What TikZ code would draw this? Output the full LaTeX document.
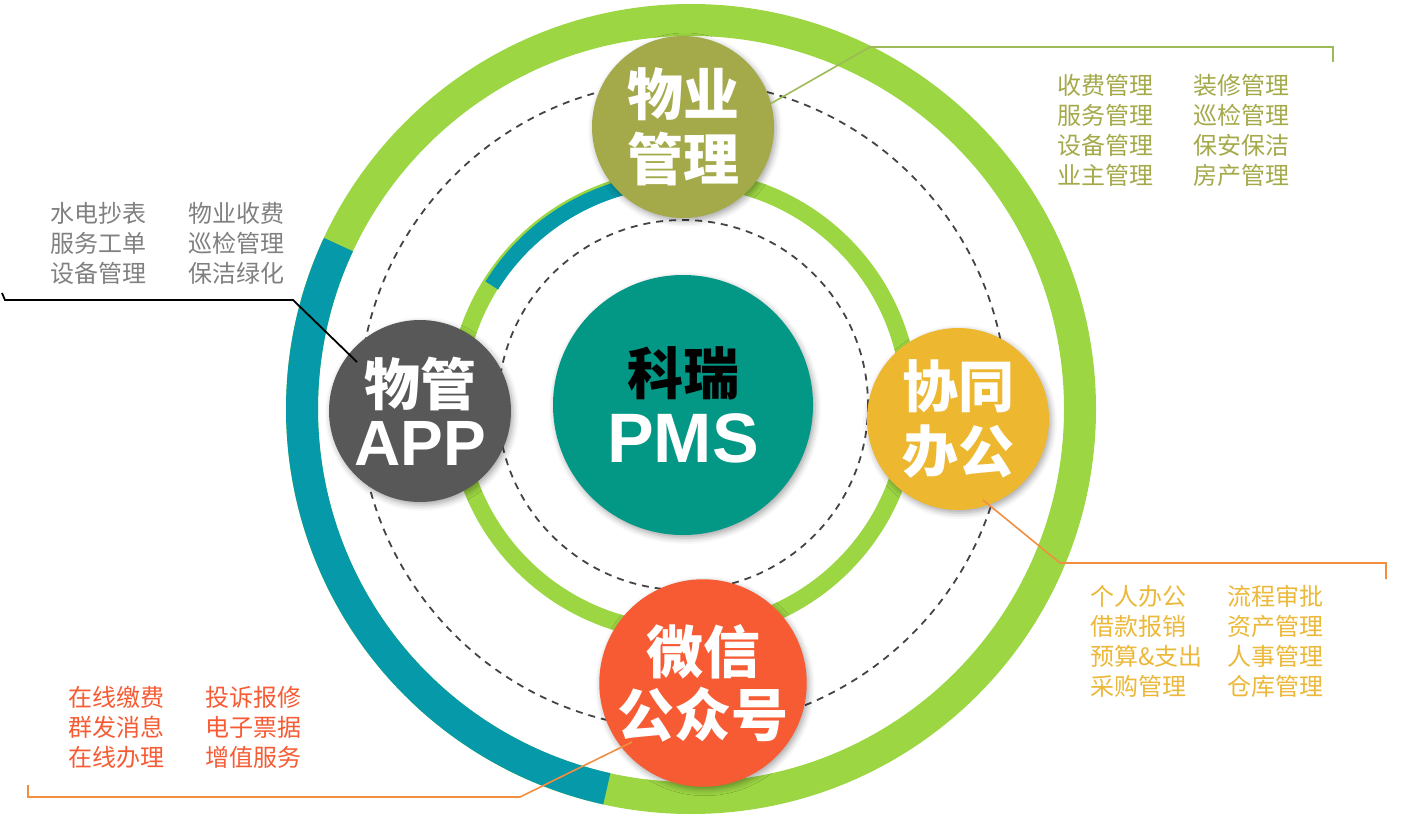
\documentclass[tikz,border=0pt]{standalone}
\usepackage{fontspec}
\setmainfont{Liberation Sans}
\newfontfamily\cjk{Noto Sans CJK SC}
\newfontfamily\cjkbf{Noto Sans CJK SC Black}
\newfontfamily\latbf{Liberation Sans Bold}
\usetikzlibrary{shadows.blur}

\definecolor{ringgreen}{HTML}{9CD643}
\definecolor{ringblue}{HTML}{0599A9}
\definecolor{pmsteal}{HTML}{039786}
\definecolor{olive}{HTML}{A4A94A}
\definecolor{appgray}{HTML}{585858}
\definecolor{oayellow}{HTML}{EDB830}
\definecolor{wxred}{HTML}{F65B33}
\definecolor{dashgray}{HTML}{444444}
\definecolor{listgray}{HTML}{808080}
\definecolor{listyellow}{HTML}{EBB83A}
\definecolor{linkolive}{HTML}{9DBA58}
\definecolor{linkorange}{HTML}{F28E3F}

\tikzset{
  sat/.style={circle, minimum size=182pt, inner sep=0pt, text=white, align=center,
    font=\cjkbf\fontsize{56}{65}\selectfont,
    blur shadow={shadow xshift=2pt, shadow yshift=-3pt, shadow blur radius=6pt, shadow opacity=35}},
  item/.style={anchor=north west, inner sep=0pt, align=left,
    font=\cjk\fontsize{24}{30}\selectfont},
  dashring/.style={dashgray, line width=1.8, dash pattern=on 7 off 6},
}

\begin{document}
\begin{tikzpicture}[x=1pt, y=-1pt]
  \useasboundingbox (0,0) rectangle (1407,818);
  % outer ring
  \draw[ringgreen, line width=32] (691,409) circle (389);
  \draw[ringblue, line width=32] (691,409) ++(-155:389) arc[start angle=-155, end angle=-257.5, radius=389];
  % dashed circles
  \draw[dashring] (683,405) circle (324);
  \draw[dashring] (683,405) circle (185);
  % inner ring
  \draw[ringgreen, line width=17] (683,405) circle (227);
  \draw[ringblue, line width=15] (683,405) ++(-105:225.5) arc[start angle=-105, end angle=-148, radius=225.5];

  % hub and satellites
  \node[sat, minimum size=260pt, fill=pmsteal, font=\cjkbf\fontsize{56}{68}\selectfont] (pms) at (683,405)
    {\textcolor{black}{科瑞}\\{\latbf\fontsize{70}{68}\selectfont PMS}};
  \node[sat, fill=olive] (wygl) at (683,127) {物业\\管理};
  \node[sat, fill=appgray, font=\cjkbf\fontsize{56}{60}\selectfont] (app) at (420,411)
    {物管\\{\latbf\fontsize{64}{60}\selectfont APP}};
  \node[sat, fill=oayellow] (oa) at (958,419) {协同\\办公};
  \node[sat, fill=wxred, font=\cjkbf\fontsize{57}{63}\selectfont] (wx) at (703,683) {微信\\公众号};

  % connectors
  \coordinate (apppin) at (357,362);
  \coordinate (oapin) at (983,500);
  \coordinate (wxpin) at (632,742);
  \draw[linkolive, line width=1.6] (wygl.15) -- (870,47) -- (1333,47) -- (1333,62);
  \draw[black, line width=1.8] (apppin) -- (293,300) -- (5,300) -- (2,293);
  \draw[linkorange, line width=1.6] (oapin) -- (1060,563) -- (1386,563) -- (1386,579);
  \draw[linkorange, line width=1.6] (wxpin) -- (520,797) -- (28,797) -- (28,785);

  % lists
  \node[item, text=olive] (wyglA) at (1057,74) {收费管理\\服务管理\\设备管理\\业主管理};
  \node[item, text=olive] (wyglB) at (1193,74) {装修管理\\巡检管理\\保安保洁\\房产管理};
  \node[item, text=listgray] (appA) at (50,202) {水电抄表\\服务工单\\设备管理};
  \node[item, text=listgray] (appB) at (188,202) {物业收费\\巡检管理\\保洁绿化};
  \node[item, text=listyellow] (oaA) at (1090,585) {个人办公\\借款报销\\预算\&支出\\采购管理};
  \node[item, text=listyellow] (oaB) at (1227,585) {流程审批\\资产管理\\人事管理\\仓库管理};
  \node[item, text=wxred] (wxA) at (68,686) {在线缴费\\群发消息\\在线办理};
  \node[item, text=wxred] (wxB) at (205,686) {投诉报修\\电子票据\\增值服务};
\end{tikzpicture}
\end{document}
